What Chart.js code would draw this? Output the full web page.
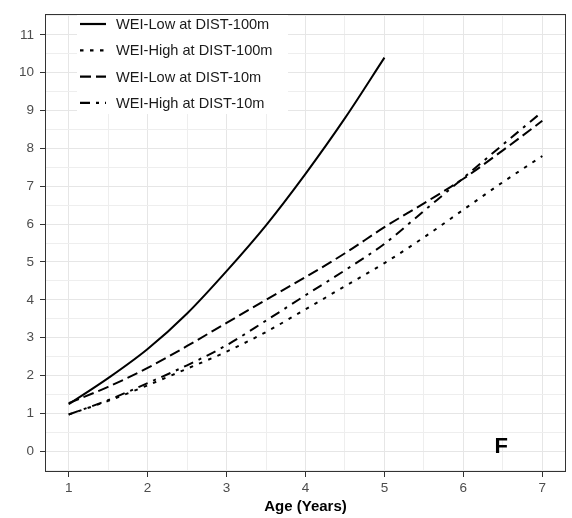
<!DOCTYPE html>
<html>
<head>
<meta charset="utf-8">
<script src="https://cdn.jsdelivr.net/npm/chart.js@4"></script>
<style>
  html, body { margin: 0; padding: 0; background: #fff; }
  #wrap { width: 572px; height: 518px; }
</style>
</head>
<body>
<div id="wrap"><canvas id="chart" width="572" height="518"></canvas></div>
<script>
// Werte (Alter in Jahren, halbjaehrlich)
const ages = [1, 1.5, 2, 2.5, 3, 3.5, 4, 4.5, 5, 5.5, 6, 6.5, 7];
const lowDist100 = [1.24, 1.93, 2.70, 3.64, 4.76, 5.97, 7.33, 8.80, 10.40];
const highDist100 = [0.97, 1.33, 1.74, 2.18, 2.63, 3.15, 3.75, 4.36, 4.97, 5.65, 6.38, 7.11, 7.80];
const lowDist10 = [1.27, 1.70, 2.20, 2.78, 3.39, 4.00, 4.60, 5.23, 5.92, 6.55, 7.20, 7.95, 8.73];
const highDist10 = [0.97, 1.35, 1.80, 2.27, 2.80, 3.45, 4.12, 4.78, 5.48, 6.35, 7.22, 8.10, 8.97];

const seriesLabels = ['WEI-Low at DIST-100m', 'WEI-High at DIST-100m', 'WEI-Low at DIST-10m', 'WEI-High at DIST-10m'];
const xTicks = [1, 2, 3, 4, 5, 6, 7];
const yTicks = [0, 1, 2, 3, 4, 5, 6, 7, 8, 9, 10, 11];
const panelLabel = 'F';

const FONT = "'Liberation Sans', Arial, sans-serif";

function toPoints(values) {
    return values.map((v, i) => ({ x: ages[i], y: v }));
}

// Haupt- und Nebenlinien wie bei ggplot
function withMinor(major, lo, hi) {
    const out = [];
    const step = major[1] - major[0];
    for (let v = major[0] - step; v <= major[major.length - 1] + step + 1e-9; v += step / 2) {
        if (v >= lo && v <= hi) out.push({ value: Math.round(v * 100) / 100 });
    }
    return out;
}

const isMajor = v => Number.isInteger(v);

const xMin = 0.7, xMax = 7.3, yMin = -0.55, yMax = 11.55;

const lineStyle = (label, values, dash) => ({
    label: label,
    data: toPoints(values),
    borderColor: '#000',
    borderWidth: 2,
    borderDash: dash,
    borderCapStyle: 'butt',
    pointRadius: 0,
    fill: false,
    cubicInterpolationMode: 'monotone'
});

// Legende innerhalb der Zeichenflaeche
const insideLegend = {
    id: 'insideLegend',
    beforeDatasetsDraw(chart) {
        const ctx = chart.ctx;
        ctx.save();
        ctx.fillStyle = '#fff';
        ctx.fillRect(77, 11, 211, 103);
        chart.data.datasets.forEach((ds, i) => {
            const y = 24 + i * 26.3;
            ctx.beginPath();
            ctx.setLineDash(ds.borderDash);
            ctx.lineWidth = 2.2;
            ctx.strokeStyle = '#000';
            ctx.moveTo(80, y);
            ctx.lineTo(106, y);
            ctx.stroke();
            ctx.setLineDash([]);
            ctx.fillStyle = '#1a1a1a';
            ctx.font = '14.6px ' + FONT;
            ctx.textBaseline = 'middle';
            ctx.textAlign = 'left';
            ctx.fillText(ds.label, 116, y + 1);
        });
        ctx.restore();
    },
    afterDraw(chart) {
        const ctx = chart.ctx;
        const a = chart.chartArea;
        ctx.save();
        ctx.strokeStyle = '#333';
        ctx.lineWidth = 1;
        ctx.strokeRect(Math.round(a.left) + 0.5, Math.round(a.top) + 0.5, Math.round(a.right - a.left) - 1, Math.round(a.bottom - a.top) - 1);
        // Panel-Buchstabe
        ctx.fillStyle = '#000';
        ctx.font = 'bold 22px ' + FONT;
        ctx.textAlign = 'center';
        ctx.textBaseline = 'middle';
        ctx.fillText(panelLabel, chart.scales.x.getPixelForValue(6.48), chart.scales.y.getPixelForValue(0.1));
        ctx.restore();
    }
};

const ctx = document.getElementById('chart').getContext('2d');
const chart = new Chart(ctx, {
    type: 'line',
    data: {
        datasets: [
            lineStyle(seriesLabels[0], lowDist100, []),
            lineStyle(seriesLabels[1], highDist100, [3.5, 6.5]),
            lineStyle(seriesLabels[2], lowDist10, [11, 5]),
            lineStyle(seriesLabels[3], highDist10, [10, 6, 3, 6])
        ]
    },
    options: {
        responsive: false,
        animation: false,
        layout: { padding: { top: 7, right: 6, left: 0, bottom: 0 } },
        plugins: {
            legend: { display: false },
            tooltip: { enabled: false }
        },
        scales: {
            x: {
                type: 'linear',
                min: xMin,
                max: xMax,
                afterBuildTicks: axis => { axis.ticks = withMinor(xTicks, xMin, xMax); },
                afterFit: axis => { axis.height = 46; },
                border: { display: false },
                grid: {
                    color: c => isMajor(c.tick.value) ? '#E6E6E6' : '#EEEEEE',
                    lineWidth: 1,
                    tickLength: 5,
                    tickColor: c => isMajor(c.tick.value) ? '#333' : 'rgba(0,0,0,0)'
                },
                ticks: {
                    autoSkip: false,
                    maxRotation: 0,
                    padding: 3,
                    color: '#4D4D4D',
                    font: { family: FONT, size: 13.5 },
                    callback: v => isMajor(v) ? String(v) : ''
                },
                title: {
                    display: true,
                    text: 'Age (Years)',
                    color: '#000',
                    font: { family: FONT, size: 15, weight: 'bold' },
                    padding: { top: 0, bottom: 2 }
                }
            },
            y: {
                type: 'linear',
                min: yMin,
                max: yMax,
                afterBuildTicks: axis => { axis.ticks = withMinor(yTicks, yMin, yMax); },
                afterFit: axis => { axis.width = 45; },
                border: { display: false },
                grid: {
                    color: c => isMajor(c.tick.value) ? '#E6E6E6' : '#EEEEEE',
                    lineWidth: 1,
                    tickLength: 5,
                    tickColor: c => isMajor(c.tick.value) ? '#333' : 'rgba(0,0,0,0)'
                },
                ticks: {
                    autoSkip: false,
                    padding: 6,
                    color: '#4D4D4D',
                    font: { family: FONT, size: 13.5 },
                    callback: v => isMajor(v) ? String(v) : ''
                }
            }
        }
    },
    plugins: [insideLegend]
});
</script>
</body>
</html>
